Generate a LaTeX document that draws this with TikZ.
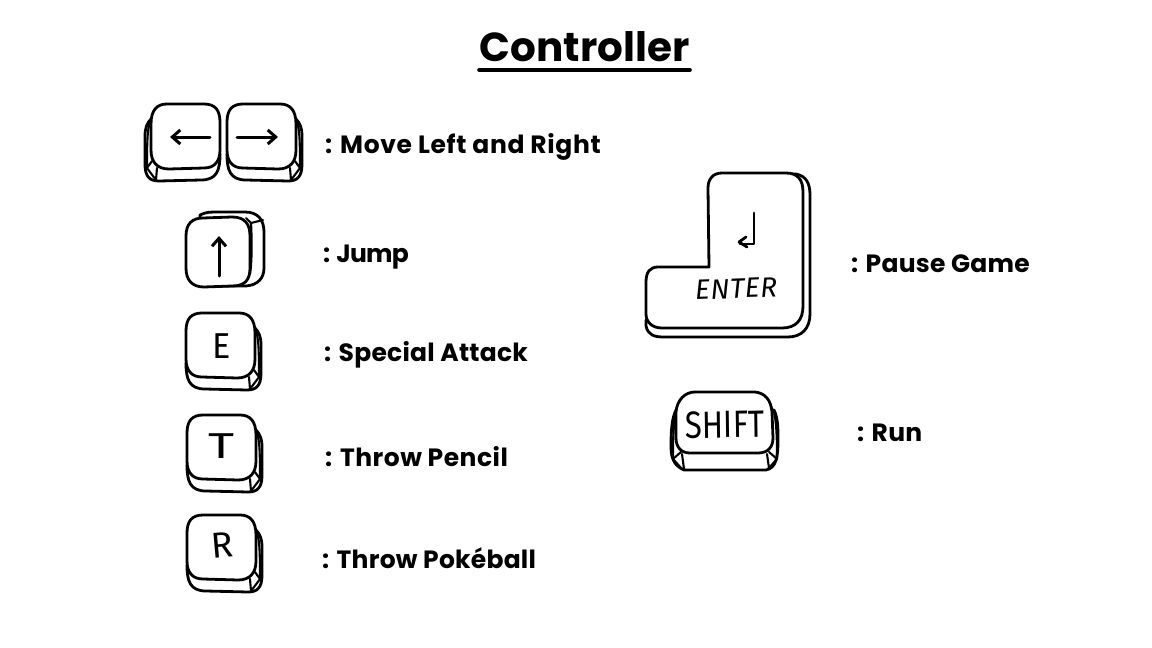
\documentclass[tikz,border=0pt]{standalone}
\usepackage{fontspec}
\setmainfont{Poppins}
\newfontfamily\keyfont{Fira Sans}
\usetikzlibrary{arrows.meta}
\newcommand{\spaced}[2]{\addfontfeature{LetterSpace=#1}#2}
\tikzset{
  ink/.style={draw=black,line width=2.8pt,line join=round,line cap=round},
  thin ink/.style={draw=black,line width=2.1pt,line join=round,line cap=round},
  keysym/.style={ink,line width=3pt,-{Straight Barb[length=8pt,width=14pt,line width=3pt]}},
  label/.style={anchor=base west,inner sep=0pt,font=\bfseries\fontsize{25}{25}\selectfont},
  keytext/.style={inner sep=0pt,text=black,font=\keyfont\fontsize{36}{36}\selectfont},
  pics/cap/.style={code={
    % face: 69 x 65, local origin at its top-left; facet at lower left
    \draw[ink,fill=white] (8,77) .. controls (-2,77) and (-6,72) .. (-6,60) -- (-6,32)
      .. controls (-6,24) and (-4,19) .. (0,15) -- (69,50)
      .. controls (69,66) and (66,76) .. (50,76) -- cycle;
    \draw[thin ink] (0,16) .. controls (-3,22) and (-4,30) .. (-4,62) -- (-4,64);
    \draw[thin ink] (1,57) -- (-4,64) -- (5,76);
    \draw[thin ink] (6,64) -- (5,76);
    \draw[ink,fill=white] (16,0) -- (53,0) .. controls (64,0) and (69,6) .. (69,18) -- (69,46)
      .. controls (69,58) and (63,64) .. (53,64) -- (18,65)
      .. controls (6,65) and (0,58) .. (0,46) -- (0,20) .. controls (0,6) and (6,0) .. (16,0) -- cycle;
  }}
}
\begin{document}
\begin{tikzpicture}[x=1pt,y=-1pt]
\useasboundingbox (0,0) rectangle (1152,648);
\fill[white] (0,0) rectangle (1152,648);

% title
\node[anchor=base,inner sep=0pt,font=\bfseries\fontsize{40.5}{41}\selectfont] (title) at (584.5,61) {Controller};
\coordinate (ul) at (479,70);
\coordinate (ur) at (690,70);
\draw[black,line width=3.6pt,line cap=round] (ul) -- (ur);

% arrow keys
\pic at (151,104) {cap};
\pic[xscale=-1] at (296,104) {cap};
\coordinate (la) at (210,137); \coordinate (lb) at (170,137);
\draw[keysym] (la) -- (lb);
\coordinate (ra) at (237,137); \coordinate (rb) at (278,137);
\draw[keysym] (ra) -- (rb);

% up key
\draw[ink,fill=white] (200,215) .. controls (206,212) and (210,212) .. (218,212) -- (245,212)
  .. controls (258,212) and (264,220) .. (264,232) -- (264,268)
  .. controls (264,278) and (258,285) .. (246,286) -- (200,286) -- cycle;
\draw[thin ink] (246,218) -- (251,223) -- (263,220);
\draw[thin ink] (251,223) .. controls (252,240) and (252,262) .. (250,274);
\draw[ink,fill=white] (203,218) -- (232,217) .. controls (245,217) and (250,224) .. (250,236) -- (250,268)
  .. controls (250,280) and (245,286) .. (232,286) -- (204,287)
  .. controls (192,287) and (186,280) .. (186,268) -- (186,236) .. controls (186,224) and (192,218) .. (203,218) -- cycle;
\coordinate (ua) at (219,276); \coordinate (ub) at (219,236);
\draw[keysym] (ua) -- (ub);

% E T R keys
\pic[xscale=-1] at (255,313) {cap};
\pic[xscale=-1] at (256,415) {cap};
\pic[xscale=-1] at (256,515) {cap};
\node[keytext,xscale=.95] (E) at (222,346) {E};
\node[keytext,xscale=1.4] (T) at (222,446) {T};
\node[keytext,rotate=5] (R) at (222,545) {R};

% enter key
\draw[ink,fill=white] (646,320) -- (646,326) .. controls (648,335) and (654,337) .. (664,337) -- (788,337)
  .. controls (802,337) and (810,328) .. (810,314) -- (810,195)
  .. controls (810,183) and (806,176) .. (796,174) -- (760,174) -- (700,300) -- cycle;
\draw[ink,fill=white] (722,173) -- (786,173) .. controls (798,173) and (803,180) .. (803,192) -- (803,306)
  .. controls (803,320) and (796,328) .. (782,328) -- (662,328)
  .. controls (652,328) and (646,322) .. (646,314) -- (646,282)
  .. controls (646,272) and (650,267) .. (658,267) -- (709,267) -- (708,188)
  .. controls (708,179) and (713,173) .. (722,173) -- cycle;
\coordinate (ea) at (754,213);
\coordinate (eb) at (754,244);
\coordinate (ec) at (740,244);
\draw[ink] (ea) -- (eb) -- (ec);
\draw[ink] (746,237) -- (739,242) -- (747,247);
\node[keytext,font=\keyfont\itshape\fontsize{28}{28}\selectfont,rotate=2] (enter) at (736,288.5) {\addfontfeature{LetterSpace=2}ENTER};

% shift key
\draw[ink,fill=white] (676,410) .. controls (672,418) and (671,430) .. (671,445)
  .. controls (671,455) and (672,465) .. (684,470) -- (766,470)
  .. controls (776,468) and (778,458) .. (778,440) .. controls (778,428) and (778,418) .. (774,410) -- cycle;
\draw[thin ink] (676,412) .. controls (673,425) and (673,445) .. (673,459) -- (682,469);
\draw[thin ink] (774,412) .. controls (777,425) and (777,445) .. (777,459) -- (768,469);
\draw[thin ink] (681,452) -- (673,459);
\draw[thin ink] (769,452) -- (777,459);
\draw[thin ink] (682,454) -- (684,469);
\draw[thin ink] (767,454) -- (769,468);
\draw[ink,fill=white] (695,392) -- (755,392) .. controls (765,393) and (771,400) .. (772,412) -- (773,438)
  .. controls (773,447) and (768,453) .. (758,453) -- (690,453)
  .. controls (681,453) and (676,447) .. (676,438) -- (676,412) .. controls (677,400) and (685,392) .. (695,392) -- cycle;
\node[keytext,font=\keyfont\fontsize{38}{38}\selectfont,xscale=.82,rotate=1] (shift) at (725,424.5) {SHIFT};

% labels
\node[label] (l1) at (325,153) {\spaced{2.6}{: Move Left and Right}};
\node[label] (l2) at (323,262) {\spaced{-3}{: Jump}};
\node[label] (l3) at (324,361) {\spaced{1}{: Special Attack}};
\node[label] (l4) at (325,466) {\spaced{2}{: Throw Pencil}};
\node[label] (l5) at (322,568) {\spaced{1}{: Throw Pokéball}};
\node[label] (l6) at (851,272) {\spaced{1}{: Pause Game}};
\node[label] (l7) at (857,441) {\spaced{1}{: Run}};
\end{tikzpicture}
\end{document}
